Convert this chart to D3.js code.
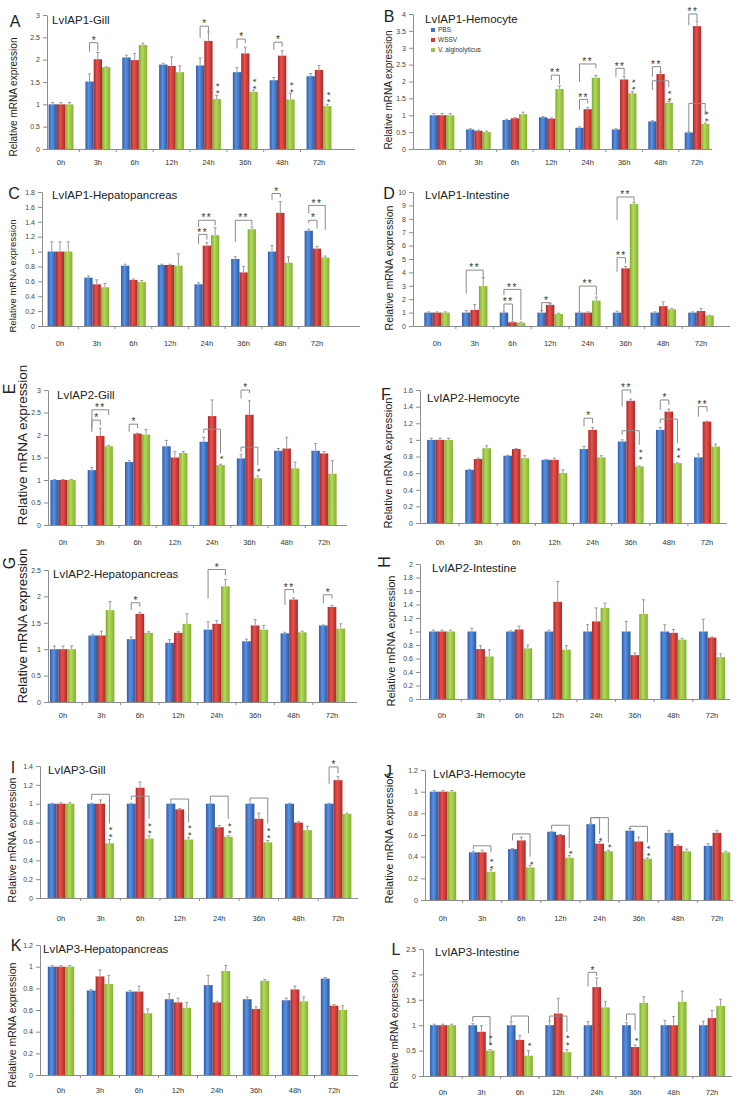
<!DOCTYPE html>
<html><head><meta charset="utf-8">
<script src="https://cdn.jsdelivr.net/npm/d3@7"></script>
<style>body{margin:0;background:#fff}svg{display:block}</style>
</head><body><svg id="c" width="743" height="1102"></svg>
<script>
const categories = ["0h","3h","6h","12h","24h","36h","48h","72h"];
const seriesNames = ["PBS","WSSV","V. alginolyticus"];

// ---- A: LvIAP1-Gill
const A_pbs  = [1,1.51,2.05,1.89,1.87,1.72,1.54,1.63];
const A_wssv = [1,2.01,1.99,1.86,2.42,2.14,2.09,1.77];
const A_valg = [1,1.83,2.33,1.72,1.12,1.28,1.11,0.96];
const A_pbsErr  = [0.04,0.17,0.05,0.03,0.17,0.10,0.06,0.06];
const A_wssvErr = [0.04,0.15,0.15,0.20,0.20,0.14,0.11,0.10];
const A_valgErr = [0.04,0.01,0.04,0.14,0.08,0.04,0.14,0.04];
const A_brackets = [[1,0,1,2.38,2.18,2.2,"*"],[4,0,1,2.75,2.49,2.63,"*"],[5,0,1,2.46,2.25,2.37,"*"],[6,0,1,2.39,2.22,2.29,"*"]];
const A_stars = [[4,2,1.28,"**"],[5,2,1.38,"**"],[6,2,1.3,"**"],[7,2,1.08,"**"]];

// ---- B: LvIAP1-Hemocyte
const B_pbs  = [1,0.58,0.86,0.94,0.63,0.58,0.82,0.49];
const B_wssv = [1,0.54,0.91,0.90,1.18,2.06,2.22,3.64];
const B_valg = [1,0.50,1.03,1.78,2.11,1.65,1.37,0.74];
const B_pbsErr  = [0.05,0.02,0.02,0.02,0.03,0.02,0.02,0.02];
const B_wssvErr = [0.05,0.02,0.02,0.02,0.05,0.09,0.06,0.15];
const B_valgErr = [0.05,0.03,0.06,0.09,0.07,0.05,0.04,0.03];
const B_brackets = [[3,1,2,2.19,2.04,1.92,"**"],[4,0,2,2.52,1.99,2.39,"**"],[4,0,1,1.47,1.16,1.35,"**"],[5,0,1,2.39,2.14,2.19,"**"],[6,0,1,2.44,2.14,2.29,"**"],[6,0,2,2.02,1.75,1.83,""],[7,0,1,4.0,3.67,3.82,"**"],[7,0,2,1.35,0.51,1.0,""]];
const B_stars = [[5,2,1.8,"**"],[6,2,1.47,"**"],[7,2,0.86,"**"]];

// ---- C: LvIAP1-Hepatopancreas
const C_pbs  = [1,0.65,0.81,0.82,0.56,0.90,1.00,1.28];
const C_wssv = [1,0.56,0.62,0.82,1.08,0.72,1.52,1.04];
const C_valg = [1,0.52,0.59,0.81,1.22,1.30,0.85,0.92];
const C_pbsErr  = [0.13,0.02,0.02,0.01,0.02,0.03,0.08,0.02];
const C_wssvErr = [0.13,0.06,0.01,0.01,0.04,0.08,0.15,0.03];
const C_valgErr = [0.13,0.05,0.02,0.16,0.10,0.03,0.08,0.02];
const C_brackets = [[4,0,2,1.42,1.33,1.35,"**"],[4,0,1,1.23,1.1,1.16,"**"],[5,0,2,1.42,1.13,1.35,"**"],[6,0,1,1.78,1.69,1.73,"*"],[7,0,2,1.62,1.51,1.29,"**"],[7,0,1,1.42,1.38,1.31,"*"]];
const C_stars = [];

// ---- D: LvIAP1-Intestine
const D_pbs  = [1,1,1,1,1,1,1,1];
const D_wssv = [1,1.2,0.28,1.58,1.0,4.3,1.48,1.12];
const D_valg = [1,2.98,0.25,0.9,1.9,9.1,1.25,0.78];
const D_pbsErr  = [0.05,0.15,0.05,0.15,0.05,0.10,0.05,0.05];
const D_wssvErr = [0.05,0.40,0.04,0.12,0.05,0.15,0.32,0.18];
const D_valgErr = [0.05,0.62,0.05,0.05,0.25,0.10,0.05,0.03];
const D_brackets = [[1,0,2,4.17,2.43,3.55,"**"],[2,0,2,2.73,2.3,0.45,"**"],[2,0,1,1.64,1.07,0.4,"**"],[3,0,1,1.74,1.07,1.44,"*"],[4,0,2,2.98,1.07,2.3,"**"],[5,0,2,9.63,7.9,9.26,"**"],[5,0,1,5.1,4.05,4.66,"**"]];
const D_stars = [];

// ---- E: LvIAP2-Gill
const E_pbs  = [1,1.22,1.40,1.75,1.85,1.48,1.65,1.65];
const E_wssv = [1,1.98,2.03,1.50,2.42,2.45,1.70,1.59];
const E_valg = [1,1.75,2.01,1.60,1.33,1.04,1.26,1.14];
const E_pbsErr  = [0.01,0.06,0.03,0.13,0.10,0.09,0.05,0.16];
const E_wssvErr = [0.01,0.17,0.01,0.13,0.36,0.31,0.25,0.04];
const E_valgErr = [0.01,0.02,0.11,0.03,0.02,0.05,0.14,0.29];
const E_brackets = [[1,0,2,2.56,2.15,2.44,"**"],[1,0,1,2.33,2.07,2.22,"*"],[2,0,1,2.24,2.07,2.15,"*"],[4,0,2,2.13,2.04,1.59,""],[5,0,1,3.0,2.81,2.93,"*"],[5,0,2,1.73,1.63,1.33,""]];
const E_stars = [[4,2,1.5,"*"],[5,2,1.22,"*"]];

// ---- F: LvIAP2-Hemocyte
const F_pbs  = [1,0.64,0.81,0.76,0.89,0.98,1.12,0.79];
const F_wssv = [1,0.77,0.89,0.76,1.12,1.47,1.34,1.22];
const F_valg = [1,0.90,0.78,0.60,0.79,0.68,0.72,0.92];
const F_pbsErr  = [0.02,0.005,0.005,0.005,0.03,0.02,0.03,0.04];
const F_wssvErr = [0.02,0.01,0.005,0.02,0.03,0.02,0.03,0.005];
const F_valgErr = [0.02,0.03,0.03,0.04,0.02,0.005,0.005,0.03];
const F_brackets = [[4,0,1,1.26,1.16,1.2,"*"],[5,0,1,1.6,1.4,1.56,"**"],[5,0,2,1.11,1.06,0.94,""],[6,0,1,1.48,1.36,1.42,"*"],[6,0,2,1.25,1.2,0.96,""],[7,0,1,1.4,1.28,1.34,"**"]];
const F_stars = [[5,2,0.78,"**"],[6,2,0.8,"**"]];

// ---- G: LvIAP2-Hepatopancreas
const G_pbs  = [1,1.26,1.19,1.12,1.37,1.15,1.30,1.45];
const G_wssv = [1,1.26,1.67,1.31,1.48,1.45,1.94,1.80];
const G_valg = [1,1.74,1.31,1.48,2.19,1.37,1.32,1.39];
const G_pbsErr  = [0.06,0.02,0.04,0.06,0.15,0.04,0.02,0.01];
const G_wssvErr = [0.06,0.08,0.03,0.02,0.06,0.11,0.03,0.03];
const G_valgErr = [0.06,0.16,0.02,0.19,0.13,0.08,0.02,0.09];
const G_brackets = [[2,0,1,1.88,1.74,1.8,"*"],[4,0,2,2.51,1.96,2.4,"*"],[6,0,1,2.13,1.84,2.06,"**"],[7,0,1,2.03,1.87,1.96,"*"]];
const G_stars = [];

// ---- H: LvIAP2-Intestine
const H_pbs  = [1,1,1,1,1,1,1,1];
const H_wssv = [1,0.74,1.03,1.44,1.15,0.65,0.98,0.91];
const H_valg = [1,0.63,0.75,0.73,1.35,1.26,0.88,0.62];
const H_pbsErr  = [0.02,0.05,0.01,0.02,0.10,0.15,0.10,0.18];
const H_wssvErr = [0.02,0.05,0.05,0.30,0.20,0.03,0.05,0.01];
const H_valgErr = [0.02,0.10,0.05,0.06,0.07,0.21,0.02,0.05];
const H_brackets = [];
const H_stars = [];

// ---- I: LvIAP3-Gill
const I_pbs  = [1,1,1,1,1,1,1,1];
const I_wssv = [1,1.00,1.17,0.94,0.75,0.84,0.80,1.25];
const I_valg = [1,0.58,0.63,0.62,0.65,0.59,0.72,0.89];
const I_pbsErr  = [0.005,0.005,0.005,0.005,0.005,0.005,0.005,0.005];
const I_wssvErr = [0.01,0.04,0.06,0.01,0.02,0.06,0.01,0.04];
const I_valgErr = [0.01,0.04,0.03,0.02,0.01,0.02,0.04,0.01];
const I_brackets = [[1,0,2,1.1,1.04,0.79,""],[2,0,2,1.08,1.04,0.84,""],[3,0,2,1.05,1.02,0.8,""],[4,0,2,1.08,1.02,0.84,""],[5,0,2,1.06,1.02,0.79,""],[7,0,1,1.39,1.21,1.32,"*"]];
const I_stars = [[1,2,0.66,"**"],[2,2,0.7,"**"],[3,2,0.68,"**"],[4,2,0.7,"**"],[5,2,0.65,"**"]];

// ---- J: LvIAP3-Hemocyte
const J_pbs  = [1,0.44,0.47,0.63,0.70,0.64,0.62,0.50];
const J_wssv = [1,0.44,0.55,0.60,0.52,0.54,0.50,0.62];
const J_valg = [1,0.26,0.30,0.39,0.45,0.38,0.45,0.44];
const J_pbsErr  = [0.01,0.01,0.005,0.005,0.01,0.02,0.02,0.02];
const J_wssvErr = [0.01,0.02,0.03,0.005,0.02,0.04,0.01,0.02];
const J_valgErr = [0.01,0.02,0.02,0.02,0.01,0.01,0.02,0.01];
const J_brackets = [[1,0,2,0.5,0.47,0.44,""],[2,0,2,0.61,0.55,0.4,""],[3,0,2,0.69,0.65,0.48,""],[4,0,2,0.76,0.71,0.53,""],[4,0,1,0.76,0.71,0.61,""],[5,0,2,0.68,0.65,0.53,""]];
const J_stars = [[1,2,0.3,"**"],[2,2,0.34,"*"],[3,2,0.44,"*"],[4,1,0.56,"*"],[4,2,0.5,"*"],[5,2,0.42,"**"]];

// ---- K: LvIAP3-Hepatopancreas
const K_pbs  = [1,0.78,0.77,0.70,0.83,0.70,0.69,0.89];
const K_wssv = [1,0.91,0.77,0.67,0.67,0.61,0.79,0.64];
const K_valg = [1,0.84,0.57,0.62,0.96,0.87,0.68,0.60];
const K_pbsErr  = [0.01,0.01,0.01,0.05,0.09,0.02,0.02,0.01];
const K_wssvErr = [0.01,0.06,0.05,0.04,0.01,0.02,0.03,0.01];
const K_valgErr = [0.01,0.08,0.04,0.05,0.05,0.01,0.04,0.04];
const K_brackets = [];
const K_stars = [];

// ---- L: LvIAP3-Intestine
const L_pbs  = [1,1,1,1,1,1,1,1];
const L_wssv = [1,0.87,0.71,1.23,1.75,0.57,1.00,1.14];
const L_valg = [1,0.50,0.40,0.47,1.35,1.44,1.46,1.38];
const L_pbsErr  = [0.02,0.03,0.07,0.08,0.07,0.05,0.09,0.08];
const L_wssvErr = [0.02,0.12,0.09,0.30,0.18,0.04,0.17,0.15];
const L_valgErr = [0.02,0.02,0.10,0.05,0.12,0.12,0.21,0.13];
const L_brackets = [[1,0,2,1.17,1.07,0.61,""],[2,0,2,1.18,1.09,0.84,""],[3,0,2,1.18,1.09,0.87,""],[4,0,1,2.04,1.76,1.97,"*"],[5,0,1,1.22,1.09,0.9,""]];
const L_stars = [[1,2,0.63,"**"],[2,2,0.62,"*"],[3,2,0.63,"**"],[5,1,0.72,"*"]];

const titles = ["LvIAP1-Gill","LvIAP1-Hemocyte","LvIAP1-Hepatopancreas","LvIAP1-Intestine","LvIAP2-Gill","LvIAP2-Hemocyte","LvIAP2-Hepatopancreas","LvIAP2-Intestine","LvIAP3-Gill","LvIAP3-Hemocyte","LvIAP3-Hepatopancreas","LvIAP3-Intestine"];
const yMax  = [3,4,1.8,10,3,1.6,2.5,2,1.4,1.2,1.2,2.5];
const yStep = [0.5,0.5,0.2,1,0.5,0.2,0.5,0.2,0.2,0.2,0.2,0.5];

const D_ = {A:[A_pbs,A_wssv,A_valg],B:[B_pbs,B_wssv,B_valg],C:[C_pbs,C_wssv,C_valg],D:[D_pbs,D_wssv,D_valg],E:[E_pbs,E_wssv,E_valg],F:[F_pbs,F_wssv,F_valg],G:[G_pbs,G_wssv,G_valg],H:[H_pbs,H_wssv,H_valg],I:[I_pbs,I_wssv,I_valg],J:[J_pbs,J_wssv,J_valg],K:[K_pbs,K_wssv,K_valg],L:[L_pbs,L_wssv,L_valg]};
const E_ = {A:[A_pbsErr,A_wssvErr,A_valgErr],B:[B_pbsErr,B_wssvErr,B_valgErr],C:[C_pbsErr,C_wssvErr,C_valgErr],D:[D_pbsErr,D_wssvErr,D_valgErr],E:[E_pbsErr,E_wssvErr,E_valgErr],F:[F_pbsErr,F_wssvErr,F_valgErr],G:[G_pbsErr,G_wssvErr,G_valgErr],H:[H_pbsErr,H_wssvErr,H_valgErr],I:[I_pbsErr,I_wssvErr,I_valgErr],J:[J_pbsErr,J_wssvErr,J_valgErr],K:[K_pbsErr,K_wssvErr,K_valgErr],L:[L_pbsErr,L_wssvErr,L_valgErr]};
const BR_ = {A:A_brackets,B:B_brackets,C:C_brackets,D:D_brackets,E:E_brackets,F:F_brackets,G:G_brackets,H:H_brackets,I:I_brackets,J:J_brackets,K:K_brackets,L:L_brackets};
const ST_ = {A:A_stars,B:B_stars,C:C_stars,D:D_stars,E:E_stars,F:F_stars,G:G_stars,H:H_stars,I:I_stars,J:J_stars,K:K_stars,L:L_stars};

const layout = {
 A:{ax:[47,355],cc:[61,319],yt:15,y0:149,cl:162,tt:[52,24],lt:[15,27,0],yl:[13,97,10]},
 B:{ax:[413,712],cc:[442,697],yt:14,y0:149,cl:162,tt:[425,23],lt:[389,22,0],yl:[388,90,10]},
 C:{ax:[42,360],cc:[60,317],yt:192,y0:326,cl:343,tt:[52,199],lt:[14,199,0],yl:[13,276,9.5]},
 D:{ax:[413,730],cc:[437,701],yt:192,y0:326,cl:343,tt:[425,199],lt:[389,199,0],yl:[389,268,10.5]},
 E:{ax:[48,347],cc:[63,324],yt:390,y0:525,cl:542,tt:[57,399],lt:[9,395,1],yl:[22,445,13.5]},
 F:{ax:[420,727],cc:[440,707],yt:390,y0:523,cl:542,tt:[427,402],lt:[386,400,0],yl:[388,463,11]},
 G:{ax:[48,357],cc:[63,332],yt:570,y0:702,cl:715,tt:[53,578],lt:[9,569,1],yl:[22,626,13]},
 H:{ax:[420,730],cc:[442,712],yt:564,y0:699,cl:715,tt:[432,572],lt:[384,568,1],yl:[391,641,11]},
 I:{ax:[40,358],cc:[61,338],yt:766,y0:898,cl:918,tt:[48,774],lt:[13,773,0],yl:[12,840,10.5]},
 J:{ax:[425,733],cc:[443,717],yt:770,y0:900,cl:918,tt:[433,778],lt:[388,777,0],yl:[389,838,11]},
 K:{ax:[40,358],cc:[61,334],yt:945,y0:1075,cl:1090,tt:[43,953],lt:[16,951,0],yl:[12,1025,10.5]},
 L:{ax:[423,732],cc:[443,712],yt:949,y0:1076,cl:1092,tt:[435,956],lt:[396,955,0],yl:[394,1029,10]}
};

const FONT = "'Liberation Sans', Arial, sans-serif";
const svg = d3.select("#c");
const defs = svg.append("defs");
const grads = [["#2d5cab","#5a92e0","#2a56a2"],["#b02424","#e2544e","#b22626"],["#7cab2c","#b4d95c","#82b030"]];
grads.forEach((g,i)=>{
  const lg = defs.append("linearGradient").attr("id","g"+i).attr("x1",0).attr("x2",1).attr("y1",0).attr("y2",0);
  lg.append("stop").attr("offset","0%").attr("stop-color",g[0]);
  lg.append("stop").attr("offset","40%").attr("stop-color",g[1]);
  lg.append("stop").attr("offset","100%").attr("stop-color",g[2]);
});
const legendColors = ["#3d74c9","#d63a36","#9ac443"];

const keys = ["A","B","C","D","E","F","G","H","I","J","K","L"];
const AX = "#8c8c8c";

function starText(g, x, yc, t, fs, vertical){
  if(vertical){
    const n = t.length, gap = 7;
    const cy = yc - (n-1)*gap/2;
    const adv = 0.389*fs;
    g.append("text").attr("transform",`translate(${x + 0.57*fs},${cy}) rotate(-90)`)
     .attr("text-anchor","middle").attr("font-size",fs).attr("font-family",FONT).attr("fill","#333")
     .attr("letter-spacing", n>1 ? (gap-adv)+"px" : "0").attr("dx", n>1 ? ((gap-adv)/2)+"px" : "0").text(t);
  } else {
    g.append("text").attr("x",x).attr("y",yc + 0.62*fs).attr("text-anchor","middle")
     .attr("font-size",fs).attr("font-family",FONT).attr("letter-spacing", t.length>1?"1.5px":"0").attr("fill","#333").text(t);
  }
}

keys.forEach((k,pi)=>{
  const L = layout[k];
  const vals = D_[k], errs = E_[k];
  const g = svg.append("g");
  const y = d3.scaleLinear().domain([0,yMax[pi]]).range([L.y0, L.yt]);
  const x = d3.scalePoint().domain(categories).range(L.cc);
  const stepW = x.step();
  const bw = stepW*0.225;
  const bx = (ci,si)=> x(categories[ci]) - 1.5*bw + si*bw;

  const ticks = d3.range(0, yMax[pi]+yStep[pi]/2, yStep[pi]).map(v=>+v.toFixed(2));
  const ya = g.append("g").attr("transform",`translate(${L.ax[0]},0)`)
    .call(d3.axisLeft(y).tickValues(ticks).tickFormat(d=>String(d)).tickSize(4).tickPadding(3).tickSizeOuter(0));
  ya.select(".domain").attr("stroke",AX);
  ya.selectAll(".tick line").attr("stroke",AX);
  ya.selectAll(".tick text").attr("font-size",7).attr("font-family",FONT).attr("fill","#444");

  g.append("line").attr("x1",L.ax[0]).attr("x2",L.ax[1]).attr("y1",L.y0+0.5).attr("y2",L.y0+0.5).attr("stroke",AX);
  const bounds = categories.slice(0,-1).map(c=>x(c)+stepW/2);
  g.selectAll("line.xt").data(bounds).enter().append("line").attr("class","xt")
    .attr("x1",d=>d).attr("x2",d=>d).attr("y1",L.y0).attr("y2",L.y0+3).attr("stroke",AX);
  g.selectAll("text.cl").data(categories).enter().append("text").attr("class","cl")
    .attr("x",d=>x(d)).attr("y",L.cl).attr("dy","0.35em").attr("text-anchor","middle")
    .attr("font-size",7.5).attr("font-family",FONT).attr("fill","#333").text(d=>d);

  vals.forEach((arr,si)=>{
    g.selectAll(null).data(arr).enter().append("rect")
      .attr("x",(d,ci)=>bx(ci,si)).attr("width",bw)
      .attr("y",d=>y(d)).attr("height",d=>L.y0 - y(d))
      .attr("fill",`url(#g${si})`);
  });
  vals.forEach((arr,si)=>{
    arr.forEach((v,ci)=>{
      const cx = bx(ci,si)+bw/2, e = errs[si][ci];
      g.append("line").attr("x1",cx).attr("x2",cx).attr("y1",y(v)).attr("y2",y(v+e)).attr("stroke","#999").attr("stroke-width",1);
      g.append("line").attr("x1",cx-1.5).attr("x2",cx+1.5).attr("y1",y(v+e)).attr("y2",y(v+e)).attr("stroke","#999").attr("stroke-width",1);
    });
  });
  BR_[k].forEach(b=>{
    const [ci,a,bb,top,lb,rb,t] = b;
    const xa = bx(ci,a)+bw/2, xb = bx(ci,bb)+bw/2;
    g.append("path").attr("d",`M${xa},${y(lb)}V${y(top)}H${xb}V${y(rb)}`)
      .attr("fill","none").attr("stroke","#8a8a8a").attr("stroke-width",1);
    if(t) starText(g,(xa+xb)/2,y(top)-5,t,10,false);
  });
  ST_[k].forEach(s=>{
    const [ci,si,v,t] = s;
    starText(g,bx(ci,si)+bw/2,y(v),t,9.5,true);
  });

  g.append("text").attr("x",L.tt[0]).attr("y",L.tt[1]).attr("font-size",11.5).attr("font-family",FONT).attr("fill","#222").text(titles[pi]);
  const lt = g.append("text").attr("font-size",16).attr("font-family",FONT).attr("fill","#222").attr("text-anchor","middle").text(k);
  if(L.lt[2]) lt.attr("transform",`translate(${L.lt[0]},${L.lt[1]-6}) rotate(-90)`).attr("dy","0.35em");
  else lt.attr("x",L.lt[0]).attr("y",L.lt[1]);
  g.append("text").attr("transform",`translate(${L.yl[0]},${L.yl[1]}) rotate(-90)`)
    .attr("text-anchor","middle").attr("dy","0.35em").attr("font-size",L.yl[2]).attr("font-family",FONT).attr("fill","#222")
    .text("Relative mRNA expression");

  if(k==="B"){
    seriesNames.forEach((n,i)=>{
      g.append("rect").attr("x",431).attr("y",28+i*10).attr("width",4).attr("height",4).attr("fill",legendColors[i]);
      g.append("text").attr("x",438).attr("y",30+i*10).attr("dy","0.35em").attr("font-size",6.5).attr("font-family",FONT).attr("fill","#333").text(n);
    });
  }
});
</script></body></html>
